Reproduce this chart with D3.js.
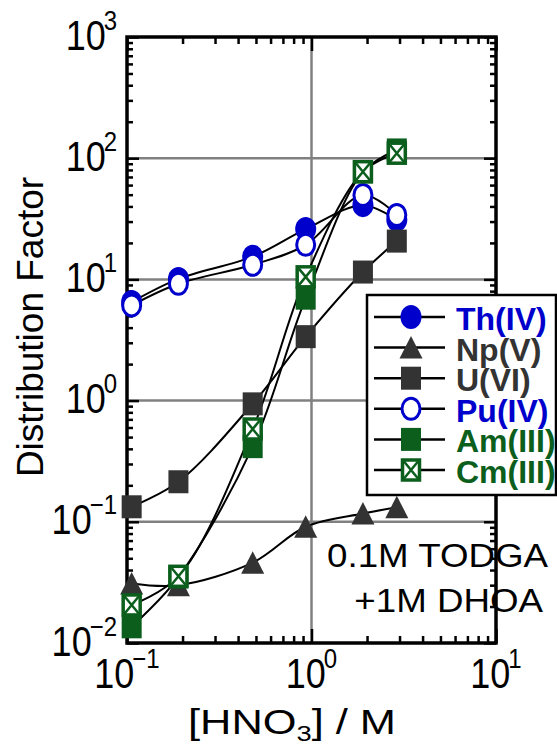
<!DOCTYPE html>
<html>
<head>
<meta charset="utf-8">
<script src="https://cdn.jsdelivr.net/npm/d3@7"></script>
<style>
body { margin: 0; background: #fff; }
svg text { font-family: Arial, "Liberation Sans", Helvetica, sans-serif; }
</style>
</head>
<body>
<svg id="chart" width="557" height="745"></svg>
<script>
// [HNO3] in M and distribution factors
var hno3  = [0.106, 0.19, 0.48, 0.93, 1.9, 2.9];
var thIV  = [6.5, 10.1, 15.4, 26, 41, 31];
var npV   = [0.031, 0.030, 0.046, 0.091, 0.117, 0.132];
var uVI   = [0.133, 0.214, 0.94, 3.37, 11.5, 20.7];
var puIV  = [6.1, 9.2, 13.2, 19.3, 49.7, 34];
var amIII = [0.0136, 0.035, 0.417, 7.0, 77, 117];
var cmIII = [0.0206, 0.0355, 0.583, 10.5, 77.4, 110];

var seriesNames = ["Th(IV)", "Np(V)", "U(VI)", "Pu(IV)", "Am(III)", "Cm(III)"];
var seriesData  = [thIV, npV, uVI, puIV, amIII, cmIII];

var yTickVals = [0.01, 0.1, 1, 10, 100, 1000];
var yTickExp  = ["\u22122", "\u22121", "0", "1", "2", "3"];
var xTickVals = [0.1, 1, 10];
var xTickExp  = ["\u22121", "0", "1"];

var blue = "#0000cc", gray = "#333333", green = "#0b5e1c";
var seriesStyle = [
  {shape: "disc",    color: blue},
  {shape: "tri",     color: gray},
  {shape: "square",  color: gray},
  {shape: "ring",    color: blue},
  {shape: "square",  color: green},
  {shape: "xsquare", color: green}
];

var svg = d3.select("#chart");

var x = d3.scaleLog().domain([0.1, 10]).range([127, 496]);
var y = d3.scaleLog().domain([0.01, 1000]).range([643, 37]);

function isDecade(v){ var l = Math.log10(v); return Math.abs(l - Math.round(l)) < 1e-6; }

// grid at decades
svg.append("g").selectAll("line.gy")
    .data(yTickVals.filter(function(v){ return v > 0.01 && v < 1000; }))
  .enter().append("line")
    .attr("x1", x(0.1)).attr("x2", x(10))
    .attr("y1", function(d){ return y(d); }).attr("y2", function(d){ return y(d); })
    .attr("stroke", "#808080").attr("stroke-width", 2.5);

svg.append("g").selectAll("line.gx")
    .data(xTickVals.filter(function(v){ return v > 0.1 && v < 10; }))
  .enter().append("line")
    .attr("x1", function(d){ return x(d); }).attr("x2", function(d){ return x(d); })
    .attr("y1", y(0.01)).attr("y2", y(1000))
    .attr("stroke", "#808080").attr("stroke-width", 2.5);

// inside ticks, all four sides
function tickAxis(axisFn, scale, vals, size, tr){
  svg.append("g")
      .attr("transform", tr)
      .call(axisFn(scale).tickValues(vals).tickSize(size).tickFormat(""))
      .call(function(g){
        g.select(".domain").remove();
        g.selectAll("line").attr("stroke", "#000").attr("stroke-width", 2.5);
      });
}
var yMinor = y.ticks().filter(function(v){ return !isDecade(v); });
var xMinor = x.ticks().filter(function(v){ return !isDecade(v); });

tickAxis(d3.axisLeft,   y, yTickVals, -12, "translate(" + x(0.1) + ",0)");
tickAxis(d3.axisLeft,   y, yMinor,    -6,  "translate(" + x(0.1) + ",0)");
tickAxis(d3.axisRight,  y, yTickVals, -12, "translate(" + x(10) + ",0)");
tickAxis(d3.axisRight,  y, yMinor,    -6,  "translate(" + x(10) + ",0)");
tickAxis(d3.axisTop,    x, xTickVals, -14, "translate(0," + y(1000) + ")");
tickAxis(d3.axisTop,    x, xMinor,    -7,  "translate(0," + y(1000) + ")");
tickAxis(d3.axisBottom, x, xTickVals, -14, "translate(0," + y(0.01) + ")");
tickAxis(d3.axisBottom, x, xMinor,    -7,  "translate(0," + y(0.01) + ")");

svg.append("rect")
    .attr("x", x(0.1)).attr("y", y(1000))
    .attr("width", x(10) - x(0.1)).attr("height", y(0.01) - y(1000))
    .attr("fill", "none").attr("stroke", "#000").attr("stroke-width", 3.5);

// tick labels 10^n
function powLabel(px, py, exp, anchor){
  var t = svg.append("g")
      .attr("transform", "translate(" + px + "," + py + ") scale(1,1.17)")
    .append("text")
      .attr("text-anchor", anchor)
      .attr("font-size", 36);
  t.append("tspan").text("10");
  t.append("tspan").attr("font-size", 24).attr("dx", -2).attr("dy", -17).text(exp);
}
yTickVals.forEach(function(v, i){ powLabel(117, y(v) + 12.5, yTickExp[i], "end"); });
xTickVals.forEach(function(v, i){ powLabel(x(v), 688, xTickExp[i], "middle"); });

// axis titles
svg.append("text")
    .attr("transform", "translate(43,327) rotate(-90)")
    .attr("text-anchor", "middle")
    .attr("font-size", 37)
    .text("Distribution Factor");

var xt = svg.append("g")
    .attr("transform", "translate(292,734) scale(1.24,1)")
  .append("text")
    .attr("text-anchor", "middle")
    .attr("font-size", 35);
xt.append("tspan").text("[HNO");
xt.append("tspan").attr("font-size", 22).attr("dy", 7).text("3");
xt.append("tspan").attr("dy", -7).text("] / M");

// curves
var line = d3.line()
    .x(function(d){ return x(d[0]); })
    .y(function(d){ return y(d[1]); })
    .curve(d3.curveCatmullRom.alpha(0.5));

seriesData.forEach(function(s){
  svg.append("path")
      .datum(hno3.map(function(c, i){ return [c, s[i]]; }))
      .attr("d", line)
      .attr("fill", "none")
      .attr("stroke", "#000")
      .attr("stroke-width", 2);
});

function drawMarker(g, st, cx, cy){
  var c = st.color;
  if (st.shape == "disc") {
    g.append("ellipse").attr("cx", cx).attr("cy", cy).attr("rx", 10.5).attr("ry", 12).attr("fill", c);
  } else if (st.shape == "ring") {
    g.append("ellipse").attr("cx", cx).attr("cy", cy).attr("rx", 9).attr("ry", 10.5)
        .attr("fill", "#fff").attr("stroke", c).attr("stroke-width", 3);
  } else if (st.shape == "tri") {
    g.append("path")
        .attr("d", "M" + cx + "," + (cy - 11.5) + "L" + (cx + 11.5) + "," + (cy + 11) + "L" + (cx - 11.5) + "," + (cy + 11) + "Z")
        .attr("fill", c);
  } else if (st.shape == "square") {
    g.append("rect").attr("x", cx - 10).attr("y", cy - 11.5).attr("width", 20).attr("height", 23).attr("fill", c);
  } else {
    g.append("rect").attr("x", cx - 8.5).attr("y", cy - 10).attr("width", 17).attr("height", 20)
        .attr("fill", "#fff").attr("stroke", c).attr("stroke-width", 3.5);
    g.append("path")
        .attr("d", "M" + (cx - 7) + "," + (cy - 8.5) + "L" + (cx + 7) + "," + (cy + 8.5) +
                   "M" + (cx + 7) + "," + (cy - 8.5) + "L" + (cx - 7) + "," + (cy + 8.5))
        .attr("stroke", c).attr("stroke-width", 2.5);
  }
}

seriesData.forEach(function(s, k){
  var g = svg.append("g");
  hno3.forEach(function(c, i){ drawMarker(g, seriesStyle[k], x(c), y(s[i])); });
});

// legend
var leg = svg.append("g");
leg.append("rect")
    .attr("x", 367).attr("y", 295).attr("width", 189).attr("height", 200)
    .attr("fill", "#fff").attr("stroke", "#000").attr("stroke-width", 2.5);

seriesNames.forEach(function(name, k){
  var ry = 317 + k * 30.6;
  leg.append("line")
      .attr("x1", 374).attr("x2", 445).attr("y1", ry).attr("y2", ry)
      .attr("stroke", "#000").attr("stroke-width", 2.5);
  drawMarker(leg, seriesStyle[k], 411, ry);
  leg.append("text")
      .attr("x", 456).attr("y", ry + 13)
      .attr("font-size", 32).attr("font-weight", "bold")
      .attr("fill", seriesStyle[k].color)
      .text(name);
});

// solvent note
var note = [["0.1M TODGA", 548, 567], ["+1M DHOA", 543, 612]];
note.forEach(function(n){
  svg.append("g")
      .attr("transform", "translate(" + n[1] + "," + n[2] + ") scale(1.13,1)")
    .append("text")
      .attr("text-anchor", "end")
      .attr("font-size", 32.5)
      .text(n[0]);
});
</script>
</body>
</html>
